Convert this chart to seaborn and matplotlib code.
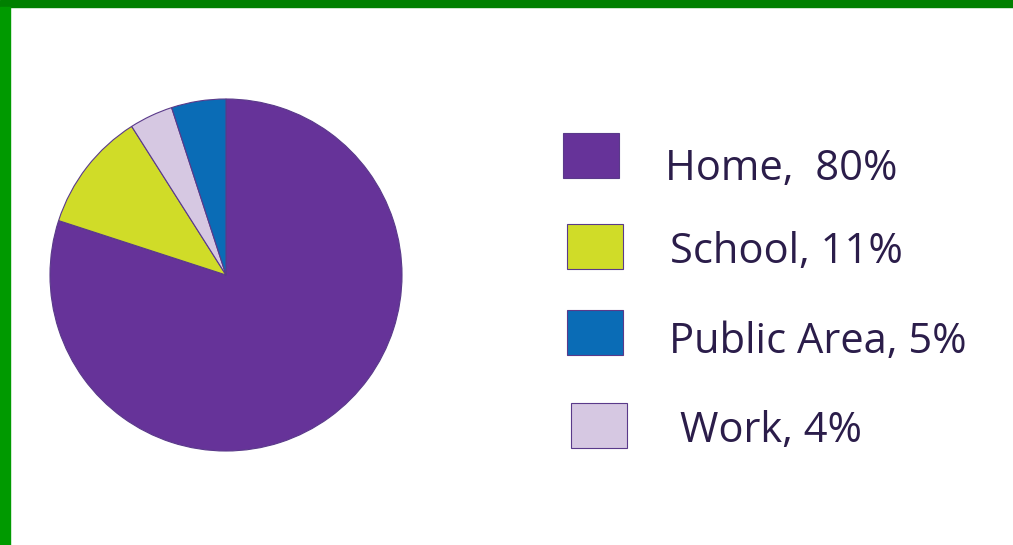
import matplotlib
matplotlib.use("Agg")
import matplotlib.pyplot as plt
from matplotlib.patches import Rectangle
import seaborn as sns

# Where the time is spent (share of total)
places = ["Home", "School", "Work", "Public Area"]
shares = [80, 11, 4, 5]
colors = ["#663399", "#d0dc28", "#d6c8e2", "#0a6cb6"]

# legend order as it appears on the right
legend_order = ["Home", "School", "Public Area", "Work"]
legend_labels = ["Home,  80%", "School, 11%", "Public Area, 5%", "Work, 4%"]

sns.set_style("white")
plt.rcParams["font.family"] = ["Open Sans", "DejaVu Sans"]

W, H = 1013, 545
fig = plt.figure(figsize=(W / 100, H / 100), dpi=100)
fig.patch.set_facecolor("white")

# green frame (top and left edge)
fig.patches.append(Rectangle((0, 1 - 7 / H), 1, 7 / H, transform=fig.transFigure,
                             color="#008000", zorder=0))
fig.patches.append(Rectangle((0, 0), 10 / W, 1 - 7 / H, transform=fig.transFigure,
                             color="#009a00", zorder=0))

# pie: center (226, 275) px, radius 176 px
cx, cy, r = 226, 275, 176
ax = fig.add_axes([(cx - r) / W, (H - cy - r) / H, 2 * r / W, 2 * r / H])
ax.pie(shares, colors=colors, startangle=90, counterclock=False,
       wedgeprops=dict(edgecolor="#5a3a8a", linewidth=0.8))
ax.set_xlim(-1, 1)
ax.set_ylim(-1, 1)
ax.set_aspect("equal")
ax.axis("off")

# legend drawn in pixel coords
lax = fig.add_axes([0, 0, 1, 1])
lax.set_xlim(0, W)
lax.set_ylim(H, 0)
lax.axis("off")
lax.patch.set_alpha(0)

box_x = [563, 567, 567, 571]
box_y = [133, 224, 310, 403]
text_x = [665, 670, 669, 680]
text_base = [180, 263, 353, 442]
color_of = dict(zip(places, colors))
for i, (name, label) in enumerate(zip(legend_order, legend_labels)):
    lax.add_patch(Rectangle((box_x[i], box_y[i]), 56, 45, facecolor=color_of[name],
                            edgecolor="#5a3a8a", linewidth=0.8))
    lax.text(text_x[i], text_base[i], label, fontsize=30, color="#2b1d4a",
             fontweight="medium", va="baseline", ha="left")

fig.savefig("out.png", dpi=100)
